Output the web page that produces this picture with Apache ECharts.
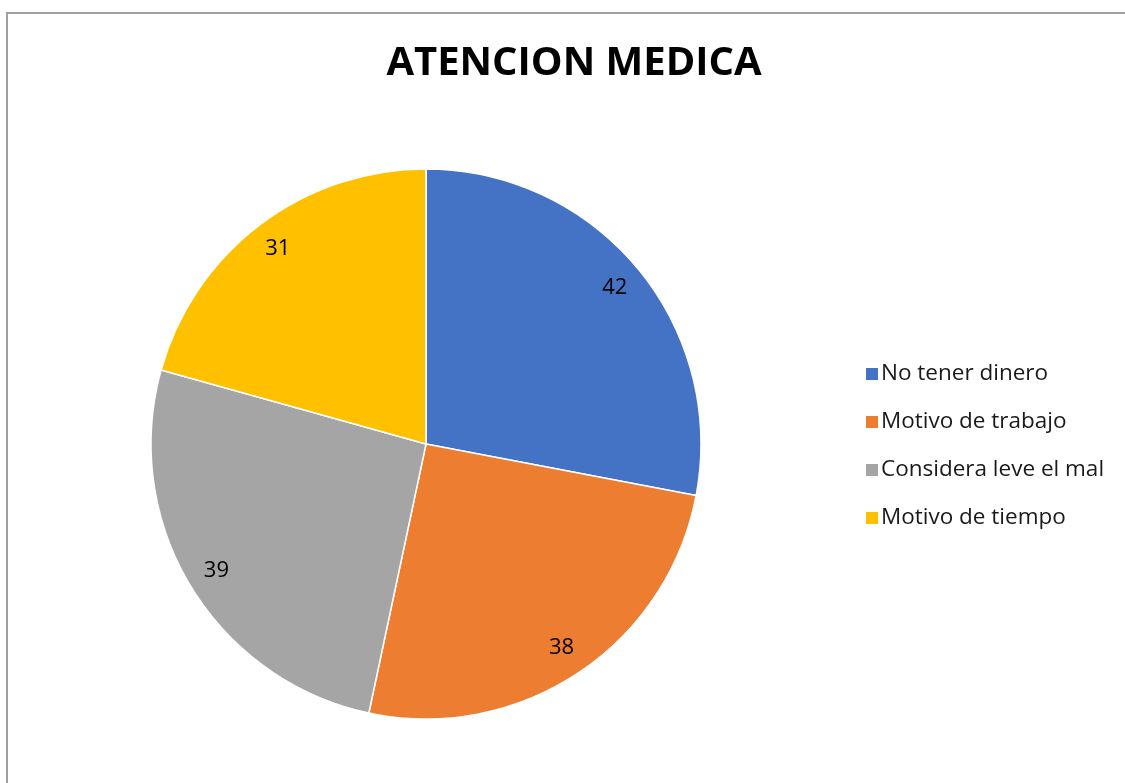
<!DOCTYPE html>
<html><head><meta charset="utf-8">
<script src="https://cdn.jsdelivr.net/npm/echarts@6/dist/echarts.min.js"></script>
<style>
html,body{margin:0;padding:0;background:#fff;overflow:hidden;}
#frame{position:absolute;left:6px;top:12px;width:1200px;height:900px;border:2px solid #a0a0a0;box-sizing:border-box;}
#c{position:absolute;left:0;top:0;width:1125px;height:783px;}
</style></head>
<body>
<div id="frame"></div>
<div id="c"></div>
<script>
const titleText = 'ATENCION MEDICA';
const categories = ['No tener dinero', 'Motivo de trabajo', 'Considera leve el mal', 'Motivo de tiempo'];
const values = [42, 38, 39, 31];
const colors = ['#4472C4', '#ED7D31', '#A5A5A5', '#FFC000'];

const data = categories.map((n, i) => ({ name: n, value: values[i], itemStyle: { color: colors[i] } }));
const labelData = categories.map((n, i) => ({ name: n, value: values[i] }));

const chart = echarts.init(document.getElementById('c'), null, { renderer: 'canvas' });
chart.setOption({
  backgroundColor: 'transparent',
  animation: false,
  title: {
    text: titleText, left: 574, top: 44, textAlign: 'center', padding: 0,
    textStyle: { fontFamily: 'Open Sans', fontWeight: 'bold', fontSize: 40, color: '#000' }
  },
  legend: {
    orient: 'vertical', left: 859, top: 357,
    itemWidth: 14, itemHeight: 14, itemGap: 24, icon: 'rect',
    data: categories,
    textStyle: { fontFamily: 'Open Sans', fontSize: 22.5, color: '#1a1a1a', lineHeight: 24, padding: [0, 0, 0, -3] }
  },
  series: [
    {
      type: 'pie', center: [426, 444], radius: [0, 275], startAngle: 90, clockwise: true,
      label: { show: false }, labelLine: { show: false },
      itemStyle: { borderColor: '#fff', borderWidth: 1.5 },
      emphasis: { disabled: true },
      data: data
    },
    {
      type: 'pie', center: [426, 444], radius: [209, 275], startAngle: 90, clockwise: true,
      silent: true, legendHoverLink: false,
      itemStyle: { color: 'rgba(0,0,0,0)' },
      label: { show: true, position: 'inside', formatter: '{c}', fontFamily: 'Open Sans', fontSize: 22, color: '#000' },
      labelLine: { show: false },
      emphasis: { disabled: true },
      data: labelData
    }
  ]
});
</script>
</body></html>
